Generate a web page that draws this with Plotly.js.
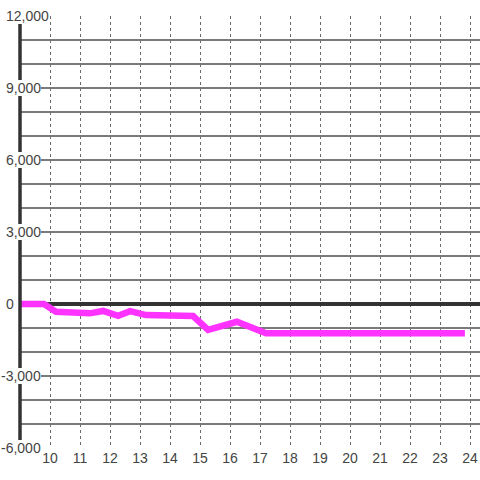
<!DOCTYPE html>
<html>
<head>
<meta charset="utf-8">
<script src="https://cdn.plot.ly/plotly-3.0.1.min.js"></script>
<style>html,body{margin:0;padding:0;background:#fff;}#chart{width:480px;height:480px;}</style>
</head>
<body>
<div id="chart"></div>
<script>
// Data
var xValues = [9.0, 9.8, 10.2, 11.33, 11.77, 12.27, 12.67, 13.2, 14.77, 15.27, 16.23, 17.2, 23.83];
var yValues = [0, 0, -320, -390, -290, -490, -300, -460, -500, -1080, -740, -1220, -1220];
var xTickVals = [10, 11, 12, 13, 14, 15, 16, 17, 18, 19, 20, 21, 22, 23, 24];
var yGridVals = [-6000, -5000, -4000, -3000, -2000, -1000, 0, 1000, 2000, 3000, 4000, 5000, 6000, 7000, 8000, 9000, 10000, 11000, 12000];
var yLabelVals = [12000, 9000, 6000, 3000, 0, -3000, -6000];
var yLabelText = ['12,000', '9,000', '6,000', '3,000', '0', '-3,000', '-6,000'];

var font = {family: 'Liberation Sans, Arial, sans-serif', size: 14, color: '#444444'};

var trace = {
  x: xValues, y: yValues, type: 'scatter', mode: 'lines',
  line: {color: '#ff33ff', width: 6.5}, hoverinfo: 'skip'
};

var annotations = yLabelVals.map(function (v, i) {
  var neg = yLabelText[i].charAt(0) === '-';
  return {
    xref: 'paper', yref: 'y', x: 0, y: v,
    xanchor: 'left', yanchor: 'middle',
    xshift: neg ? -19 : -14,
    text: yLabelText[i], showarrow: false,
    bgcolor: '#ffffff', borderpad: 0, borderwidth: 0,
    font: {family: font.family, size: 14, color: '#444444'}
  };
});

var layout = {
  width: 480, height: 480,
  margin: {l: 20, r: 0, t: 16, b: 32},
  paper_bgcolor: '#ffffff', plot_bgcolor: '#ffffff',
  showlegend: false,
  font: font,
  xaxis: {
    range: [9, 24.3333], tickmode: 'array', tickvals: xTickVals,
    ticks: '', showline: false, zeroline: false,
    showgrid: true, gridcolor: '#6a6a6a', gridwidth: 1, griddash: '3px,3px',
    tickfont: font, fixedrange: true
  },
  yaxis: {
    range: [-6000, 12000], tickmode: 'array', tickvals: yGridVals,
    showticklabels: false, ticks: '', showline: false,
    showgrid: true, gridcolor: '#7a7a7a', gridwidth: 1.5,
    zeroline: true, zerolinecolor: '#333333', zerolinewidth: 3.5,
    fixedrange: true
  },
  shapes: [{
    type: 'line', xref: 'paper', yref: 'paper', x0: 0, x1: 0, y0: 0, y1: 1,
    line: {color: '#333333', width: 3.5}, layer: 'above'
  }],
  annotations: annotations
};

Plotly.newPlot('chart', [trace], layout, {displayModeBar: false, staticPlot: true});
</script>
</body>
</html>
